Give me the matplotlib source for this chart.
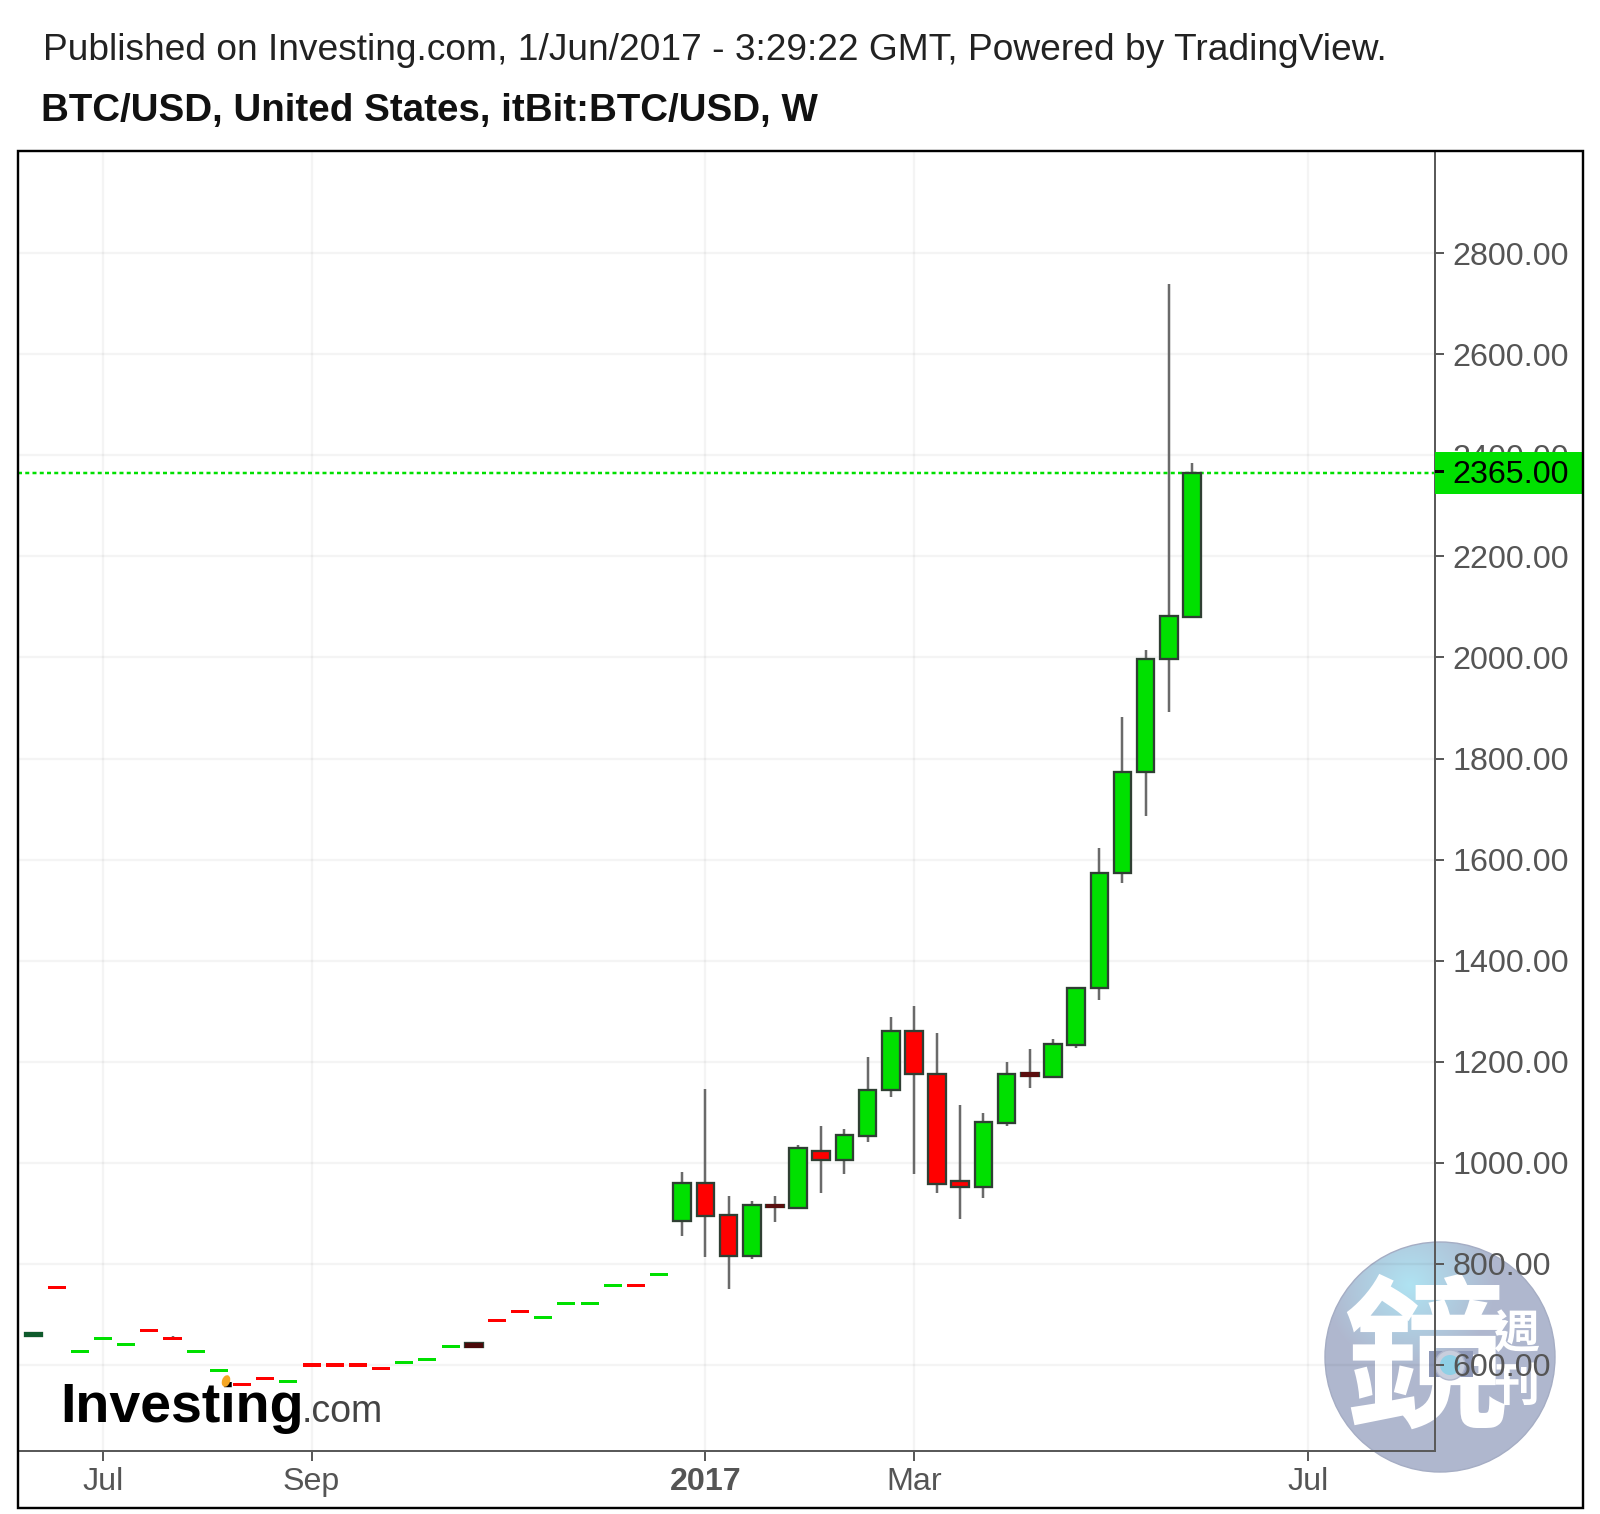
import numpy as np
import matplotlib
matplotlib.use("Agg")
import matplotlib.pyplot as plt
from matplotlib.patches import Rectangle, Circle, Ellipse

W, H = 1600, 1514
DPI = 100

# ---- data (weekly candles) ----
opens = [663, 753, 625, 651, 640, 669, 653, 625, 588, 563, 574, 567, 601, 601, 601, 595, 604, 609, 635, 643,
         690, 706, 693, 720, 720, 757, 759, 778,
         884, 960, 896, 816, 917, 911, 1023, 1006, 1054, 1144, 1261, 1176, 965, 953, 1079, 1177, 1170, 1233,
         1346, 1573, 1774, 1996, 2081]
closes = [657, 752, 627, 653, 642, 667, 651, 627, 590, 561, 572, 569, 599, 599, 599, 593, 606, 611, 637, 635,
          688, 704, 695, 722, 722, 759, 757, 780,
          960, 895, 816, 917, 912, 1029, 1006, 1055, 1145, 1261, 1175, 958, 952, 1081, 1176, 1172, 1235, 1346,
          1573, 1774, 1997, 2082, 2365]
highs = [663, 753, 627, 653, 642, 669, 658, 627, 590, 563, 574, 569, 601, 601, 601, 595, 606, 611, 637, 643,
         690, 706, 695, 722, 722, 759, 759, 780,
         982, 1147, 934, 924, 934, 1035, 1073, 1067, 1210, 1289, 1311, 1257, 1114, 1098, 1199, 1225, 1246, 1346,
         1623, 1882, 2015, 2739, 2385]
lows = [657, 752, 625, 651, 640, 667, 651, 625, 588, 561, 572, 567, 599, 599, 599, 593, 604, 609, 635, 635,
        688, 704, 693, 720, 720, 757, 757, 778,
        856, 814, 750, 810, 883, 911, 941, 978, 1041, 1131, 978, 941, 888, 930, 1073, 1148, 1170, 1227,
        1322, 1554, 1686, 1892, 2081]
last_price = 2365
y_ticks = [600, 800, 1000, 1200, 1400, 1600, 1800, 2000, 2200, 2400, 2600, 2800]
x_tick_pos = [3, 12, 29, 38, 55]
x_tick_labels = ["Jul", "Sep", "2017", "Mar", "Jul"]
title1 = "Published on Investing.com, 1/Jun/2017 - 3:29:22 GMT, Powered by TradingView."
title2 = "BTC/USD, United States, itBit:BTC/USD, W"

GREEN, RED = "#00e000", "#ff0000"
AXC, TXT = "#5a5a5a", "#555555"
FONT = "Liberation Sans"
px = 72 / DPI

fig = plt.figure(figsize=(W / DPI, H / DPI), dpi=DPI, facecolor="white")

# ---- watermark layer in pixel coordinates, below the chart ----
bg = fig.add_axes([0, 0, 1, 1], zorder=-1)
bg.set_xlim(0, W); bg.set_ylim(H, 0); bg.axis("off")
cx, cy, r = 1440, 1357, 115
yy, xx = np.mgrid[cy - r:cy + r:300j, cx - r:cx + r:300j]
d = np.clip(np.hypot(xx - 1410, yy - 1285) / 85, 0, 1)[..., None]
c0, c1 = np.array([0.69, 0.89, 0.95]), np.array([0.69, 0.72, 0.81])
img = bg.imshow(c0 * (1 - d) + c1 * d, extent=[cx - r, cx + r, cy + r, cy - r], aspect="auto", zorder=1)
img.set_clip_path(Circle((cx, cy), r, transform=bg.transData))
bg.set_xlim(0, W); bg.set_ylim(H, 0)
bg.add_patch(Circle((cx, cy), r, fc="none", ec="#a5adc4", lw=1, zorder=2))
bg.text(1425, 1366, "鏡", family="Noto Sans CJK TC", weight="bold", size=118, color="white", ha="center", va="center", zorder=3)
bg.text(1516, 1335, "週", family="Noto Sans CJK TC", weight="bold", size=33, color="white", ha="center", va="center", zorder=3)
bg.text(1516, 1388, "刊", family="Noto Sans CJK TC", weight="bold", size=33, color="white", ha="center", va="center", zorder=3)
bg.add_patch(Rectangle((1429, 1351), 44, 26, fc="#8f99b8", ec="none", zorder=4))
bg.add_patch(Circle((1450, 1365), 15, fc="#c8cedd", ec="#b0b7cc", lw=1, zorder=5))
bg.add_patch(Circle((1450, 1365), 10, fc="#8fd0e6", ec="none", zorder=6))

# ---- chart axes: pane 18..1435 x 151..1451 px ----
def idx(p):
    return (p - 33.5) / 23.17
def val(p):
    return 600 + (1365 - p) / 0.5054

ax = fig.add_axes([18 / W, 1 - 1451 / H, (1435 - 18) / W, (1451 - 151) / H], zorder=1)
ax.patch.set_alpha(0)
ax.set_xlim(idx(18), idx(1435))
ax.set_ylim(val(1451), val(151))
ax.set_axisbelow(True)
ax.grid(True, color="black", alpha=0.045, lw=2.4 * px)
for s in ("left", "top"):
    ax.spines[s].set_visible(False)
for s in ("right", "bottom"):
    ax.spines[s].set_color(AXC)
    ax.spines[s].set_linewidth(2 * px)
ax.yaxis.tick_right()
ax.set_yticks(y_ticks)
ax.set_yticklabels([f"{v:.2f}" for v in y_ticks], family=FONT, size=23.2, color=TXT)
ax.set_xticks(x_tick_pos)
ax.set_xticklabels(x_tick_labels, family=FONT, size=23.2, color=TXT)
ax.get_xticklabels()[2].set_fontweight("bold")
ax.tick_params(axis="y", length=9 * px, width=2 * px, color=AXC, pad=6)
ax.tick_params(axis="x", length=10 * px, width=2 * px, color=AXC, pad=4.5)

x = np.arange(len(opens))
o, c, h, l = map(np.array, (opens, closes, highs, lows))
ax.vlines(x, l, h, color="#6a6a6a", lw=2.5 * px, zorder=2)
up = c >= o
body = np.abs(c - o)
face = np.where(up, GREEN, RED).astype(object)
big = body > 3
ax.bar(x[big], body[big], bottom=np.minimum(o, c)[big], width=0.76, color=list(face[big]),
       edgecolor="#2f3f33", linewidth=2.3 * px, zorder=3)
ax.bar(x[~big], np.maximum(body[~big], 6), bottom=np.minimum(o, c)[~big] - 2, width=0.78, color=list(face[~big]),
       edgecolor="none", zorder=3)
# thick near-doji weeks read almost black
for i, col in ((0, "#0f5a2c"), (19, "#4a0a0a"), (32, "#5a0f0f"), (43, "#5a0f0f")):
    m = (o[i] + c[i]) / 2
    ax.bar(x[i], 9, bottom=m - 4.5, width=0.78, color=col, edgecolor="none", zorder=4)

ax.axhline(last_price, color="#00e000", lw=2.5 * px, dashes=(1.6, 1.3), zorder=2.5)

# ---- Investing.com mark, over the grid ----
top = fig.add_axes([0, 0, 1, 1], zorder=2)
top.patch.set_alpha(0)
top.set_xlim(0, W); top.set_ylim(H, 0); top.axis("off")
top.text(60, 1422, "Investing", family=FONT, weight="bold", size=40, color="black", va="baseline", zorder=3)
top.text(302, 1422, ".com", family=FONT, size=27, color="#444444", va="baseline", zorder=3)
top.add_patch(Ellipse((226, 1381), 8, 12, angle=20, fc="#f5a623", ec="none", zorder=4))

# ---- price tag and frame on top ----
fig.add_artist(Rectangle((1435 / W, 1 - 494 / H), 147 / W, 42 / H, transform=fig.transFigure, fc=GREEN, ec="none", zorder=5))
fig.add_artist(Rectangle((1435 / W, 1 - 472.5 / H), 9 / W, 2 / H, transform=fig.transFigure, fc="black", ec="none", zorder=6))
fig.text(1452 / W, 1 - 475 / H, f"{last_price:.2f}", family=FONT, size=23.2, color="black", va="center", zorder=6)
fig.add_artist(Rectangle((18 / W, 1 - 1508 / H), 1565 / W, 1357 / H, transform=fig.transFigure, fc="none", ec="black", lw=2.4 * px, zorder=7))

fig.text(43 / W, 1 - 51 / H, title1, family=FONT, size=26.7, color="#222222", va="center")
fig.text(41 / W, 1 - 111 / H, title2, family=FONT, weight="bold", size=27.7, color="#111111", va="center")

fig.savefig("out.png", dpi=DPI)
